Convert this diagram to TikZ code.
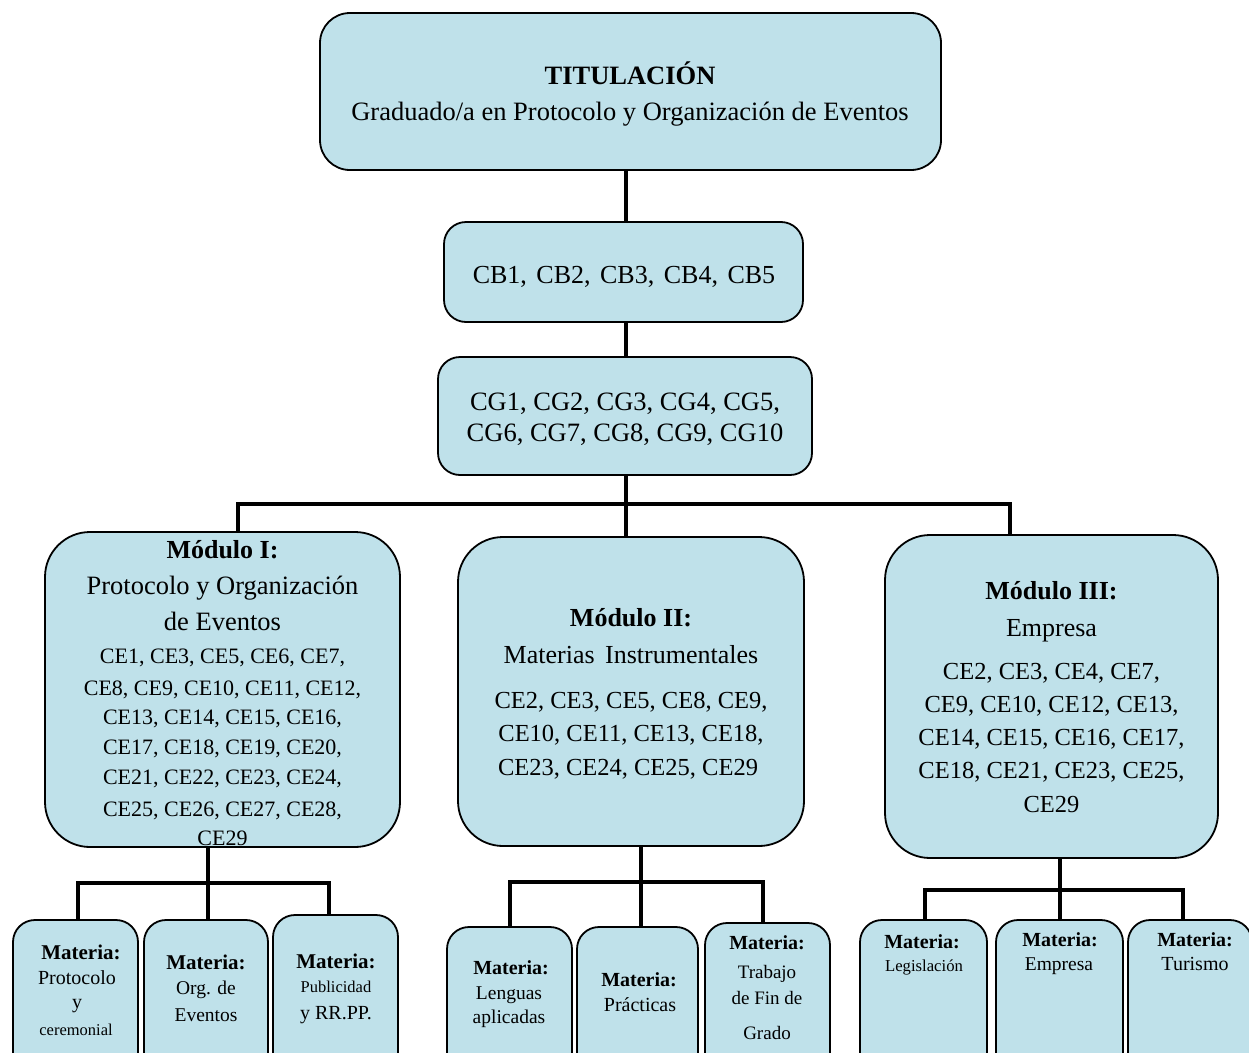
\documentclass[tikz,border=0pt]{standalone}
\usepackage{fontspec}
\setmainfont{Liberation Serif}
\definecolor{boxfill}{HTML}{BFE1EA}
\tikzset{
  box/.style={draw=black, line width=1.8pt, fill=boxfill, rounded corners=#1, inner sep=0pt},
  conn/.style={line width=3.2pt},
  txt/.style={anchor=base, inner sep=0pt, align=center},
}
\newcommand{\fsz}[1]{\fontsize{#1}{#1}\selectfont}
\begin{document}
\begin{tikzpicture}[x=1pt, y=-1pt]
\useasboundingbox (0,0) rectangle (1249,1052);
\clip (0,0) rectangle (1249,1052);
\fill[white] (0,0) rectangle (1249,1052);

% ---- boxes ----
\node[box=30, minimum width=621, minimum height=157] (title) at (630.5,91.5) {};
\node[box=22, minimum width=359, minimum height=100] (cb) at (623.5,272) {};
\node[box=22, minimum width=374, minimum height=118] (cg) at (625,416) {};

\node[box=45, minimum width=355, minimum height=315] (m1) at (222.5,689.5) {};
\node[box=45, minimum width=346, minimum height=309] (m2) at (631,691.5) {};
\node[box=45, minimum width=333, minimum height=323] (m3) at (1051.5,696.5) {};

\node[box=22, minimum width=125, minimum height=155] (b1) at (75.5,997.5) {};
\node[box=22, minimum width=124, minimum height=155] (b2) at (206,997.5) {};
\node[box=22, minimum width=125, minimum height=160] (b3) at (335.5,995) {};
\node[box=22, minimum width=125, minimum height=148] (b4) at (509.5,1001) {};
\node[box=22, minimum width=121, minimum height=148] (b5) at (637.5,1001) {};
\node[box=22, minimum width=125, minimum height=152] (b6) at (767.5,999) {};
\node[box=22, minimum width=127, minimum height=155] (b7) at (923.5,997.5) {};
\node[box=22, minimum width=127, minimum height=155] (b8) at (1059.5,997.5) {};
\node[box=22, minimum width=124, minimum height=155] (b9) at (1190,997.5) {};

% ---- connectors ----
\coordinate (j0) at (626,504);
\coordinate (d1) at (238,504);
\coordinate (d3) at (1010,504);
\draw[conn] (title.south -| j0) -- (cb.north -| j0);
\draw[conn] (cb.south -| j0) -- (cg.north -| j0);
\draw[conn] (cg.south -| j0) -- (j0);
\draw[conn] (m1.north -| d1) -- (d1) -- (d3) -- (m3.north -| d3);
\draw[conn] (j0) -- (m2.north -| j0);

\coordinate (e1) at (208,883);
\coordinate (e1a) at (78,883);
\coordinate (e1c) at (329,883);
\draw[conn] (m1.south -| e1) -- (e1);
\draw[conn] (b1.north -| e1a) -- (e1a) -- (e1c) -- (b3.north -| e1c);
\draw[conn] (e1) -- (b2.north -| e1);

\coordinate (e2) at (641,882);
\coordinate (e2a) at (510,882);
\coordinate (e2c) at (763,882);
\draw[conn] (m2.south -| e2) -- (e2);
\draw[conn] (b4.north -| e2a) -- (e2a) -- (e2c) -- (b6.north -| e2c);
\draw[conn] (e2) -- (b5.north -| e2);

\coordinate (e3) at (1060,890);
\coordinate (e3a) at (925,890);
\coordinate (e3c) at (1183,890);
\draw[conn] (m3.south -| e3) -- (e3);
\draw[conn] (b7.north -| e3a) -- (e3a) -- (e3c) -- (b9.north -| e3c);
\draw[conn] (e3) -- (b8.north -| e3);

% ---- texts ----
\node[txt, font=\fsz{26.5}\bfseries] (tt1) at (630,84) {TITULACIÓN};
\node[txt, font=\fsz{26.5}] (tt2) at (630,120) {Graduado/a en Protocolo y Organización de Eventos};

\node[txt, font=\fsz{26}] (cbt) at (624,283) {CB1,\hspace{3pt} CB2,\hspace{3pt} CB3,\hspace{3pt} CB4,\hspace{3pt} CB5};
\node[txt, font=\fsz{26.5}] (cgt1) at (625,410) {CG1, CG2, CG3, CG4, CG5,};
\node[txt, font=\fsz{26.5}] (cgt2) at (625,441) {CG6, CG7, CG8, CG9, CG10};

% Module I
\node[txt, font=\fsz{26}\bfseries] (m1a) at (222.5,558) {Módulo I:};
\node[txt, font=\fsz{26.5}] (m1b) at (222.5,594) {Protocolo y Organización};
\node[txt, font=\fsz{26.5}] (m1c) at (222.5,630) {de Eventos};
\node[txt, font=\fsz{22}] (m1d) at (222.5,663) {CE1, CE3, CE5, CE6, CE7,};
\node[txt, font=\fsz{22}] (m1e) at (222.5,695) {CE8, CE9, CE10, CE11, CE12,};
\node[txt, font=\fsz{22}] (m1f) at (222.5,724) {CE13, CE14, CE15, CE16,};
\node[txt, font=\fsz{22}] (m1g) at (222.5,754) {CE17, CE18, CE19, CE20,};
\node[txt, font=\fsz{22}] (m1h) at (222.5,784) {CE21, CE22, CE23, CE24,};
\node[txt, font=\fsz{22}] (m1i) at (222.5,816) {CE25, CE26, CE27, CE28,};
\node[txt, font=\fsz{22}] (m1j) at (222.5,845) {CE29};

% Module II
\node[txt, font=\fsz{26}\bfseries] (m2a) at (631,626) {Módulo II:};
\node[txt, font=\fsz{26}] (m2b) at (631,663) {Materias\hspace{4pt} Instrumentales};
\node[txt, font=\fsz{24.5}] (m2c) at (631,708) {CE2, CE3, CE5, CE8, CE9,};
\node[txt, font=\fsz{24.5}] (m2d) at (631,741) {CE10, CE11, CE13, CE18,};
\node[txt, font=\fsz{24.5}] (m2e) at (628,775) {CE23, CE24, CE25, CE29};

% Module III
\node[txt, font=\fsz{26}\bfseries] (m3a) at (1051.5,599) {Módulo III:};
\node[txt, font=\fsz{26}] (m3b) at (1051.5,636) {Empresa};
\node[txt, font=\fsz{24.5}] (m3c) at (1051.5,679) {CE2, CE3, CE4, CE7,};
\node[txt, font=\fsz{24.5}] (m3d) at (1051.5,712) {CE9, CE10, CE12, CE13,};
\node[txt, font=\fsz{24.5}] (m3e) at (1051.5,745) {CE14, CE15, CE16, CE17,};
\node[txt, font=\fsz{24.5}] (m3f) at (1051.5,778) {CE18, CE21, CE23, CE25,};
\node[txt, font=\fsz{24.5}] (m3g) at (1051.5,812) {CE29};

% Materia boxes
\node[txt, font=\fsz{21}\bfseries] (b1a) at (81,959) {Materia:};
\node[txt, font=\fsz{20}] (b1b) at (77,984) {Protocolo};
\node[txt, font=\fsz{20}] (b1c) at (77,1008) {y};
\node[txt, font=\fsz{16.5}] (b1d) at (76,1035) {ceremonial};

\node[txt, font=\fsz{21}\bfseries] (b2a) at (206,969) {Materia:};
\node[txt, font=\fsz{19.5}] (b2b) at (206,994) {Org. de};
\node[txt, font=\fsz{19.5}] (b2c) at (206,1021) {Eventos};

\node[txt, font=\fsz{21}\bfseries] (b3a) at (336,968) {Materia:};
\node[txt, font=\fsz{16.5}] (b3b) at (336,992) {Publicidad};
\node[txt, font=\fsz{20}] (b3c) at (336,1019) {y RR.PP.};

\node[txt, font=\fsz{20}\bfseries] (b4a) at (511,974) {Materia:};
\node[txt, font=\fsz{19.5}] (b4b) at (509,999) {Lenguas};
\node[txt, font=\fsz{19.5}] (b4c) at (509,1023) {aplicadas};

\node[txt, font=\fsz{20}\bfseries] (b5a) at (639,986) {Materia:};
\node[txt, font=\fsz{20}] (b5b) at (640,1011) {Prácticas};

\node[txt, font=\fsz{20}\bfseries] (b6a) at (767,949) {Materia:};
\node[txt, font=\fsz{19}] (b6b) at (767,978) {Trabajo};
\node[txt, font=\fsz{19}] (b6c) at (767,1004) {de Fin de};
\node[txt, font=\fsz{19}] (b6d) at (767,1039) {Grado};

\node[txt, font=\fsz{20}\bfseries] (b7a) at (922,948) {Materia:};
\node[txt, font=\fsz{16.7}] (b7b) at (924,971) {Legislación};

\node[txt, font=\fsz{20}\bfseries] (b8a) at (1060,946) {Materia:};
\node[txt, font=\fsz{19.5}] (b8b) at (1059,970) {Empresa};

\node[txt, font=\fsz{20}\bfseries] (b9a) at (1195,946) {Materia:};
\node[txt, font=\fsz{20}] (b9b) at (1195,970) {Turismo};
\end{tikzpicture}
\end{document}
